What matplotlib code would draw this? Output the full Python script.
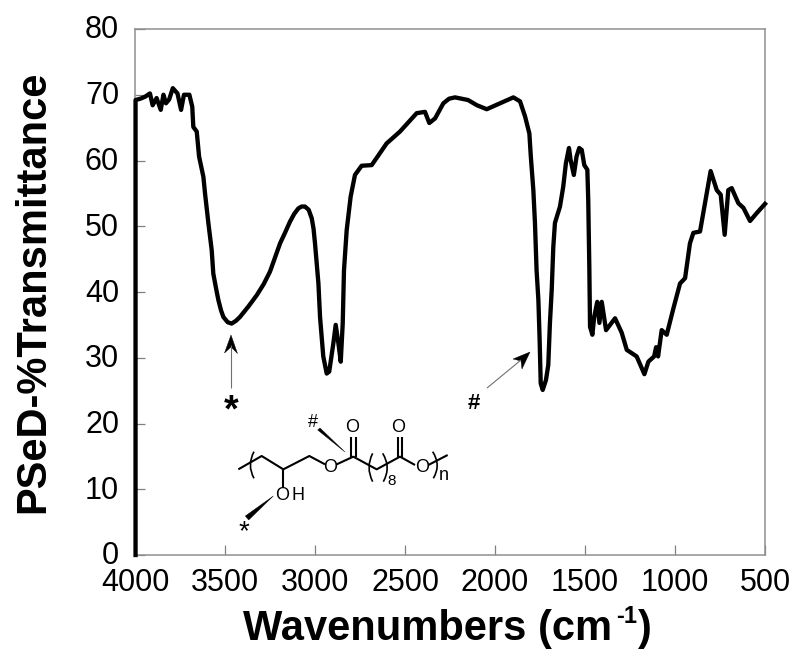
import matplotlib
matplotlib.use("Agg")
import matplotlib.pyplot as plt
from matplotlib.lines import Line2D
from matplotlib.patches import Polygon, PathPatch
from matplotlib.path import Path
from matplotlib.transforms import ScaledTranslation

wavenumbers = [3997, 3997, 3970, 3944, 3917, 3902, 3880, 3857, 3842, 3828, 3810, 3790, 3764, 3744, 3728, 3698, 3682, 3676,
               3657, 3644, 3620, 3611, 3592, 3574, 3565, 3550, 3537, 3522, 3509, 3485, 3463, 3440, 3417, 3370, 3324, 3285, 3250, 3220, 3194, 3165, 3139, 3115, 3093,
               3075, 3056, 3035, 3018, 3008, 3000, 2981, 2972, 2954, 2935, 2921, 2898, 2885, 2870, 2857, 2846, 2839, 2824, 2802,
               2778, 2741, 2685, 2602, 2528, 2435, 2389, 2365, 2333, 2287, 2255, 2222, 2150, 2100, 2046, 1972, 1898, 1861, 1833,
               1809, 1801, 1787, 1778, 1769, 1759, 1752, 1746, 1735, 1717, 1704, 1695, 1685, 1676, 1667, 1639, 1621,
               1606, 1589, 1580, 1562, 1547, 1532, 1518, 1504, 1487, 1482, 1476, 1472, 1459, 1449, 1432, 1420, 1407,
               1383, 1333, 1296, 1268, 1213, 1170, 1148, 1116, 1105, 1094, 1074, 1046, 1009, 972, 944, 917, 898, 861,
               802, 768, 746, 724, 704, 685, 648, 620, 583, 546, 500]
transmittance = [0, 69.2, 69.4, 69.7, 70.2, 68.4, 69.5, 67.7, 70, 68.7, 69.3, 71, 70.2, 67.7, 70, 70, 68.2, 65.1,
                 64.4, 60.6, 57.5, 55, 50.4, 46.4, 42.8, 40.6, 38.8, 37.2, 36.2, 35.4, 35.2, 35.6, 36.2, 37.8, 39.5, 41.2, 43.1, 45.4, 47.4, 49.1, 50.7, 51.9, 52.7,
                 53, 53, 52.5, 51.2, 49.6, 47.4, 41.3, 36.2, 30.2, 27.6, 27.9, 32.2, 35, 32.2, 29.4, 35.2, 43.3, 49.4, 54.5,
                 57.8, 59.2, 59.3, 62.6, 64.4, 67.2, 67.4, 65.7, 66.4, 68.7, 69.4, 69.6, 69.2, 68.4, 67.8, 68.7, 69.6, 69, 66.7,
                 64.1, 60.6, 55.5, 50.5, 43.3, 38.8, 32.7, 26.1, 25.1, 26.6, 28.9, 35.2, 40.3, 46.9, 50.5, 53, 56,
                 59.6, 61.9, 60.1, 57.8, 60.6, 61.9, 61.6, 59.3, 58.6, 54, 43.8, 34.7, 33.5, 36.2, 38.5, 35.3, 38.5,
                 34.2, 36, 33.8, 31.2, 30.2, 27.5, 29.4, 30.2, 31.6, 30.2, 34.2, 33.5, 37.5, 41.3, 42.1, 47.4, 49, 49.2,
                 58.4, 55.5, 54.8, 48.7, 55.5, 55.8, 53.5, 52.8, 50.8, 52, 53.4]
x_ticks = [4000, 3500, 3000, 2500, 2000, 1500, 1000, 500]
y_ticks = [0, 10, 20, 30, 40, 50, 60, 70, 80]
x_label_main = "Wavenumbers (cm"
x_label_exp = "-1"
x_label_end = ")"
y_label = "PSeD-%Transmittance"

plt.rcParams["font.family"] = ["Liberation Sans", "DejaVu Sans"]

W, H = 800, 660
fig = plt.figure(figsize=(W / 100, H / 100), dpi=100)
ax = fig.add_axes([135 / W, (H - 555) / H, 630 / W, 526 / H])
ax.plot(wavenumbers, transmittance, color="black", lw=3.1, solid_joinstyle="round", clip_on=False, zorder=3)
ax.set_xlim(4000, 500)
ax.set_ylim(0, 80)
ax.set_xticks(x_ticks)
ax.set_yticks(y_ticks)
ax.tick_params(direction="in", length=7.5, width=0.9, color="#808080", labelsize=22)
ax.tick_params(axis="y", pad=11.5)
ax.tick_params(axis="x", pad=9.5)
for tl in ax.get_yticklabels():
    tl.set_transform(tl.get_transform() + ScaledTranslation(0, 2 / 100, fig.dpi_scale_trans))
for s in ax.spines.values():
    s.set_color("#909090")
    s.set_linewidth(1.1)


def P(x, y):
    return (x / W, 1 - y / H)


def Z(zx, zy):
    return (220 + zx / 3, 400 + zy / 3)


fig.text(*P(243, 640), x_label_main, fontsize=30, fontweight="bold", ha="left", va="baseline")
fig.text(*P(616, 623), x_label_exp, fontsize=17, fontweight="bold", ha="left", va="baseline")
fig.text(*P(638, 640), x_label_end, fontsize=30, fontweight="bold", ha="left", va="baseline")
fig.text(*P(33, 292), y_label, fontsize=30, fontweight="bold", rotation=90, ha="center", va="center")


def line(pts, lw=1.5, color="black"):
    xs, ys = zip(*[P(*p) for p in pts])
    fig.add_artist(Line2D(xs, ys, transform=fig.transFigure, color=color, lw=lw, solid_capstyle="butt"))


def poly(pts, color="black"):
    fig.add_artist(Polygon([P(*p) for p in pts], closed=True, transform=fig.transFigure,
                           facecolor=color, edgecolor=color, lw=0.3))


def label(x, y, s, size=11.5, **kw):
    fig.text(*P(x, y), s, fontsize=size, ha="center", va="center", **kw)


def curve(a, b, c, lw=1.2):
    path = Path([P(*Z(*a)), P(*Z(*b)), P(*Z(*c))], [Path.MOVETO, Path.CURVE3, Path.CURVE3])
    fig.add_artist(PathPatch(path, transform=fig.transFigure, fill=False, lw=lw, edgecolor="black"))


# Peak arrows
line([(231, 388), (231, 345)], lw=0.8, color="#707070")
poly([(231, 335), (224.5, 353), (231, 347), (237.5, 353.5)])
line([(487, 388), (521, 360)], lw=0.8, color="#707070")
poly([(530, 352), (513, 359), (521, 361), (522, 369)])
label(231, 411, "*", size=27, fontweight="bold")
label(474, 404, "#", size=16, fontweight="bold")

# Chain bonds
line([Z(55, 208), Z(125, 168), Z(190, 208), Z(268, 168), Z(315, 193)])
line([Z(350, 193), Z(400, 170), Z(470, 208), Z(540, 170), Z(585, 195)])
line([Z(625, 195), Z(683, 165)])
line([Z(190, 208), Z(190, 265)])
for x0 in (393, 407, 533, 547):
    line([Z(x0, 172), Z(x0, 110)])
curve((102, 155), (80, 195), (102, 235))
curve((458, 160), (436, 202), (458, 245))
curve((488, 160), (514, 202), (490, 245))
curve((638, 155), (664, 195), (640, 235))
# Molecule arrows
poly([Z(293, 90), Z(375, 156), Z(300, 84)])
poly([Z(160, 288), Z(76, 348), Z(86, 360)])
for zx, zy, s in [(330, 203, "O"), (397, 83, "O"), (533, 83, "O"), (605, 203, "O"),
                  (187, 288, "O"), (235, 288, "H"), (672, 228, "n")]:
    label(*Z(zx, zy), s, size=13)
label(*Z(515, 243), "8", size=11)
label(*Z(280, 68), "#", size=13)
label(*Z(72, 397), "*", size=20)

fig.savefig("out.png", dpi=100)
